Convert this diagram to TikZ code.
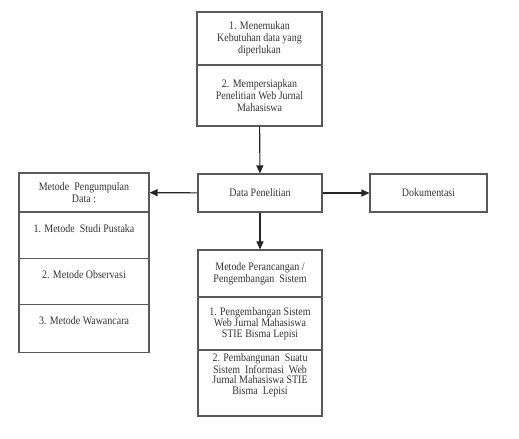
\documentclass[tikz,border=0pt]{standalone}
\usepackage{fontspec}
\setmainfont{Liberation Serif}[FakeStretch=0.87]
\usetikzlibrary{arrows.meta}
\begin{document}
\begin{tikzpicture}[x=1bp,y=-1bp,
  box/.style={rectangle, draw=black!65, line width=1.1bp, inner xsep=2bp, inner ysep=0pt, align=center, text=black!80, font=\fontsize{11.5}{12}\selectfont},
  item/.style={box, anchor=north, text height=20bp, text depth=#1},
  link/.style={draw=black!85, line width=1.1bp, -{Triangle[length=8bp,width=7bp]}}]
\useasboundingbox (0,0) rectangle (519,439);
% kolom tengah atas
\node[box, minimum width=125bp, minimum height=53bp] (kebutuhan) at (259.5,38.5){1. Menemukan\\Kebutuhan data yang\\diperlukan};
\node[box, minimum width=125bp, minimum height=61bp] (persiapan) at (259.5,95.5){2. Mempersiapkan\\Penelitian Web Jurnal\\Mahasiswa};
\node[box, minimum width=124bp, minimum height=38bp] (data) at (260,193){Data Penelitian};
\node[box, minimum width=117bp, minimum height=38bp] (dok) at (428.5,193){Dokumentasi};
% kolom kiri
\node[box, minimum width=130bp, minimum height=39bp] (kumpul) at (84,192.5){Metode\ \ Pengumpulan\\Data :};
\node[item=26bp, minimum width=130bp] (studi) at (84,212){1. Metode\ \ Studi Pustaka};
\node[item=26bp, minimum width=130bp] (obs) at (84,258){2. Metode Observasi};
\node[item=28bp, minimum width=130bp] (wawan) at (84,304){3. Metode Wawancara};
% kolom tengah bawah
\node[box, minimum width=124bp, minimum height=47bp] (rancang) at (260,273.5){Metode Perancangan /\\Pengembangan\ \ Sistem};
\node[box, minimum width=124bp, minimum height=53bp, font=\fontsize{11.5}{11}\selectfont] (kembang) at (260,323.5){1. Pengembangan Sistem\\Web Jurnal Mahasiswa\\STIE Bisma Lepisi};
\node[box, text depth=18bp, minimum width=124bp, minimum height=66bp, font=\fontsize{11.5}{10.5}\selectfont] (bangun) at (260,383){2. Pembangunan\ \ Suatu\\Sistem\ \ Informasi\ \ Web\\Jurnal Mahasiswa STIE\\Bisma\ \ Lepisi};
\draw[link] (persiapan) -- (data);
\draw[link] (data) -- (kumpul);
\draw[link] (data) -- (dok);
\draw[link] (data) -- (rancang);
\end{tikzpicture}
\end{document}
